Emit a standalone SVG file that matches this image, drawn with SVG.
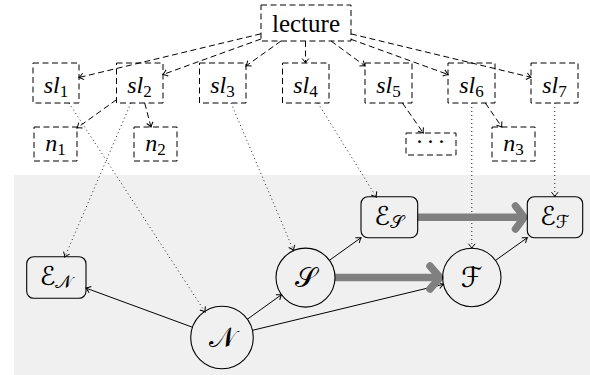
<svg xmlns="http://www.w3.org/2000/svg" width="590" height="375" viewBox="0 0 590 375">
<style>
.bg{fill:#f0f0f0}
.dbox{fill:none;stroke:#000;stroke-width:1;stroke-dasharray:6 3.5}
.rbox{fill:none;stroke:#000;stroke-width:1.1}
.circ{fill:none;stroke:#000;stroke-width:1.1}
.dash{fill:none;stroke:#000;stroke-width:1;stroke-dasharray:6 3.5;marker-end:url(#ah)}
.dot{fill:none;stroke:#222;stroke-width:1;stroke-dasharray:1 3;marker-end:url(#ah)}
.sol{fill:none;stroke:#000;stroke-width:1;marker-end:url(#ah)}
.thick{fill:none;stroke:#808080;stroke-width:7.5;stroke-linecap:butt}
.chev{fill:none;stroke:#808080;stroke-width:7.5;stroke-linecap:round;stroke-linejoin:round}
.rm{font-family:"Liberation Serif","Times New Roman",serif;fill:#000}
.it{font-family:"Liberation Serif","Times New Roman",serif;font-style:italic;fill:#000}
.scr{font-family:"DejaVu Serif","DejaVu Sans","Liberation Serif",serif;fill:#000}
</style>
<defs>
<marker id="ah" markerUnits="userSpaceOnUse" markerWidth="12" markerHeight="12" viewBox="-6 -6 12 12" refX="0" refY="0" orient="auto" overflow="visible">
<path d="M-4.5,-3.3 Q-1.5,-0.7 0,0 Q-1.5,0.7 -4.5,3.3" fill="none" stroke="#000" stroke-width="1" stroke-dasharray="none"/>
</marker>
</defs>
<rect class="bg" x="14" y="175" width="576" height="200"/>

<g id="connectors">
<line class="dash" x1="261" y1="33.8" x2="79" y2="77.5"/>
<line class="dash" x1="261" y1="39" x2="163" y2="74.5"/>
<line class="dash" x1="281" y1="41" x2="246" y2="66"/>
<line class="dash" x1="305.5" y1="41" x2="305.5" y2="63"/>
<line class="dash" x1="331" y1="41" x2="365" y2="65.9"/>
<line class="dash" x1="351" y1="39.3" x2="448" y2="74.5"/>
<line class="dash" x1="351" y1="33.9" x2="531" y2="77.3"/>
<line class="dash" x1="116.5" y1="99.7" x2="77" y2="128"/>
<line class="dash" x1="144.7" y1="103" x2="151" y2="127"/>
<line class="dash" x1="402.4" y1="103" x2="423.3" y2="133"/>
<line class="dash" x1="485.3" y1="103" x2="501.8" y2="127"/>
<line class="dot" x1="69" y1="103" x2="205.1" y2="312"/>
<line class="dot" x1="130.9" y1="103" x2="64.8" y2="257"/>
<line class="dot" x1="231" y1="103" x2="293.5" y2="250.3"/>
<line class="dot" x1="317.9" y1="103" x2="376.3" y2="197"/>
<line class="dot" x1="471.8" y1="103" x2="471.8" y2="248.3"/>
<line class="dot" x1="554.8" y1="103" x2="554.8" y2="196.7"/>
<line class="sol" x1="192.9" y1="327.4" x2="86" y2="288.1"/>
<line class="sol" x1="247" y1="319.5" x2="281.5" y2="294.7"/>
<line class="sol" x1="252.1" y1="330.4" x2="443.4" y2="284.3"/>
<line class="sol" x1="329.3" y1="260.4" x2="361" y2="237.7"/>
<line class="sol" x1="495.5" y1="260.4" x2="527.3" y2="237.7"/>
<line class="thick" x1="335" y1="277.5" x2="438" y2="277.5"/>
<path class="chev" d="M430,266 Q436,273 440,277.5 Q436,282 430,289"/>
<line class="thick" x1="417.7" y1="217.3" x2="522" y2="217.3"/>
<path class="chev" d="M515.5,206 Q521,213 524,217.3 Q521,222 515.5,229"/>
</g>

<g id="lecture">
<rect class="dbox" x="261" y="5" width="90" height="36"/>
<text class="rm" x="306" y="32" font-size="25" text-anchor="middle">lecture</text>
</g>
<g id="sl1">
<rect class="dbox" x="33" y="63" width="46" height="40"/>
<text class="it" x="56" y="93" font-size="24" text-anchor="middle">sl<tspan font-size="17" font-style="normal" dy="4">1</tspan></text>
</g>
<g id="sl2">
<rect class="dbox" x="116.5" y="63" width="46.5" height="40"/>
<text class="it" x="139.5" y="93" font-size="24" text-anchor="middle">sl<tspan font-size="17" font-style="normal" dy="4">2</tspan></text>
</g>
<g id="sl3">
<rect class="dbox" x="199.5" y="63" width="46.5" height="40"/>
<text class="it" x="222.5" y="93" font-size="24" text-anchor="middle">sl<tspan font-size="17" font-style="normal" dy="4">3</tspan></text>
</g>
<g id="sl4">
<rect class="dbox" x="282.5" y="63" width="46.5" height="40"/>
<text class="it" x="305.5" y="93" font-size="24" text-anchor="middle">sl<tspan font-size="17" font-style="normal" dy="4">4</tspan></text>
</g>
<g id="sl5">
<rect class="dbox" x="365" y="63" width="47" height="40"/>
<text class="it" x="388.5" y="93" font-size="24" text-anchor="middle">sl<tspan font-size="17" font-style="normal" dy="4">5</tspan></text>
</g>
<g id="sl6">
<rect class="dbox" x="448" y="63" width="47" height="40"/>
<text class="it" x="471.5" y="93" font-size="24" text-anchor="middle">sl<tspan font-size="17" font-style="normal" dy="4">6</tspan></text>
</g>
<g id="sl7">
<rect class="dbox" x="531" y="63" width="47" height="40"/>
<text class="it" x="554.5" y="93" font-size="24" text-anchor="middle">sl<tspan font-size="17" font-style="normal" dy="4">7</tspan></text>
</g>
<g id="n1">
<rect class="dbox" x="34" y="127" width="43" height="34"/>
<text class="it" x="55.5" y="151" font-size="24" text-anchor="middle">n<tspan font-size="17" font-style="normal" dy="4">1</tspan></text>
</g>
<g id="n2">
<rect class="dbox" x="134" y="127" width="43" height="34"/>
<text class="it" x="155.5" y="151" font-size="24" text-anchor="middle">n<tspan font-size="17" font-style="normal" dy="4">2</tspan></text>
</g>
<g id="dots">
<rect class="dbox" x="406" y="133" width="50" height="22"/>
<text class="rm" x="432" y="149" font-size="24" text-anchor="middle" letter-spacing="3">···</text>
</g>
<g id="n3">
<rect class="dbox" x="492" y="127" width="43" height="34"/>
<text class="it" x="513.5" y="151" font-size="24" text-anchor="middle">n<tspan font-size="17" font-style="normal" dy="4">3</tspan></text>
</g>

<g id="EN">
<rect class="rbox" x="26.7" y="256.7" width="59.3" height="41.6" rx="7"/>
<text class="scr" x="56" y="285" font-size="26" text-anchor="middle">ℰ<tspan font-size="18" dy="3">𝒩</tspan></text>
</g>
<g id="N">
<circle class="circ" cx="222" cy="337.5" r="31.3"/>
<text class="scr" x="222" y="347" font-size="28" text-anchor="middle">𝒩</text>
</g>
<g id="S">
<circle class="circ" cx="305.5" cy="277.6" r="29.5"/>
<text class="scr" x="305.5" y="287" font-size="28" text-anchor="middle">𝒮</text>
</g>
<g id="ES">
<rect class="rbox" x="361" y="196.7" width="56.7" height="41" rx="7"/>
<text class="scr" x="389" y="225" font-size="26" text-anchor="middle">ℰ<tspan font-size="18" dy="3">𝒮</tspan></text>
</g>
<g id="F">
<circle class="circ" cx="471.8" cy="277.5" r="29.2"/>
<text class="scr" x="471.8" y="287" font-size="28" text-anchor="middle">ℱ</text>
</g>
<g id="EF">
<rect class="rbox" x="527.3" y="196.7" width="55.4" height="41" rx="7"/>
<text class="scr" x="555" y="225" font-size="26" text-anchor="middle">ℰ<tspan font-size="18" dy="3">ℱ</tspan></text>
</g>
</svg>
